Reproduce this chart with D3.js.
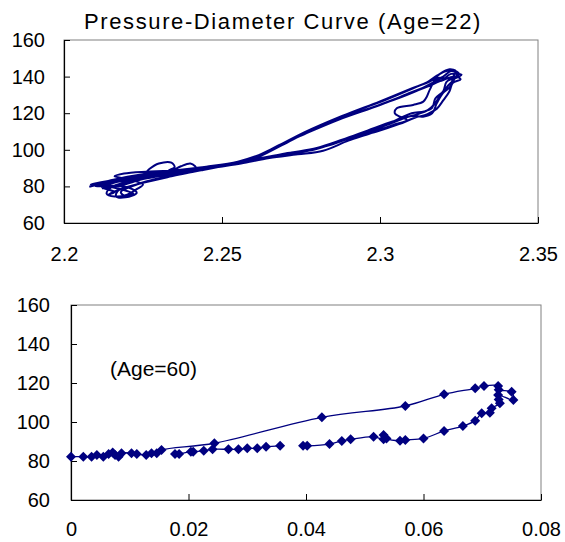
<!DOCTYPE html>
<html><head><meta charset="utf-8">
<script src="https://cdn.jsdelivr.net/npm/d3@7"></script>
<style>
body{margin:0;background:#fff}
svg{display:block}
text{font-family:"Liberation Sans",Arial,sans-serif;fill:#000}
</style>
</head><body>
<svg id="chart" width="565" height="542"></svg>
<script>
// ---------- text ----------
const title22 = "Pressure-Diameter Curve (Age=22)";
const label60 = "(Age=60)";

// ---------- tick labels ----------
const xTicks22 = [2.2, 2.25, 2.3, 2.35];
const yTicks22 = [60, 80, 100, 120, 140, 160];
const xTicks60 = [0, 0.02, 0.04, 0.06, 0.08];
const yTicks60 = [60, 80, 100, 120, 140, 160];

// ---------- Age 22: diameter (mm) / pressure (mmHg) loops ----------
const age22Cycle1 = [[2.2080,79.8],[2.2130,82.0],[2.2200,84.5],[2.2300,87.0],[2.2400,89.5],[2.2500,91.8],[2.2580,94.5],[2.2670,101.5],[2.2760,109.5],[2.2880,118.5],[2.3000,126.5],[2.3100,133.5],[2.3150,137.0],[2.3180,140.5],[2.3220,144.0],[2.3240,143.0],[2.3232,140.0],[2.3222,134.5],[2.3199,131.0],[2.3180,125.5],[2.3165,120.0],[2.3136,118.1],[2.3100,118.5],[2.3040,115.5],[2.2960,110.5],[2.2880,105.5],[2.2800,101.0],[2.2720,98.5],[2.2640,96.0],[2.2560,93.0],[2.2450,90.5],[2.2350,88.0],[2.2270,85.5],[2.2200,82.5],[2.2150,79.5],[2.2135,76.0],[2.2160,74.5],[2.2200,75.5],[2.2230,78.5]];
const age22Cycle2 = [[2.2250,81.0],[2.2200,84.0],[2.2160,85.5],[2.2190,87.0],[2.2260,88.0],[2.2330,88.5],[2.2420,90.0],[2.2520,92.0],[2.2600,95.5],[2.2680,102.5],[2.2760,108.5],[2.2870,116.5],[2.3000,124.5],[2.3100,131.5],[2.3160,135.5],[2.3200,138.5],[2.3225,141.5],[2.3258,141.0],[2.3235,139.0],[2.3211,139.0],[2.3179,139.0],[2.3158,133.0],[2.3148,129.0],[2.3137,126.3],[2.3105,124.5],[2.3053,122.7],[2.3047,119.9],[2.3063,118.1],[2.3085,116.3],[2.3040,113.5],[2.2970,109.0],[2.2900,105.0],[2.2820,99.5],[2.2740,97.5],[2.2650,95.5],[2.2560,92.5],[2.2470,90.0],[2.2380,87.0],[2.2290,84.0],[2.2220,80.5],[2.2170,77.5],[2.2165,74.5],[2.2195,74.0],[2.2230,76.5],[2.2210,79.0],[2.2150,80.5],[2.2100,80.0]];
const age22Cycle3 = [[2.2130,81.5],[2.2200,83.5],[2.2250,86.0],[2.2270,89.5],[2.2300,92.5],[2.2340,93.0],[2.2350,90.5],[2.2330,88.5],[2.2380,88.5],[2.2460,90.0],[2.2540,92.8],[2.2610,96.5],[2.2700,104.0],[2.2800,112.0],[2.2900,119.5],[2.3020,127.5],[2.3110,134.0],[2.3170,138.5],[2.3190,141.5],[2.3230,143.5],[2.3250,141.5],[2.3230,139.0],[2.3210,137.0],[2.3200,132.0],[2.3175,128.0],[2.3165,123.0],[2.3140,121.0],[2.3100,120.0],[2.3060,117.0],[2.3000,112.0],[2.2930,108.0],[2.2850,103.0],[2.2780,100.0],[2.2700,98.0],[2.2620,95.0],[2.2530,92.0],[2.2440,89.0],[2.2340,85.5],[2.2250,82.0],[2.2170,78.0],[2.2140,75.5]];
const age22Cycle4 = [[2.2160,77.0],[2.2120,79.5],[2.2170,82.5],[2.2250,85.0],[2.2330,87.5],[2.2370,91.0],[2.2400,92.5],[2.2415,91.0],[2.2420,89.5],[2.2510,91.5],[2.2600,95.0],[2.2690,102.5],[2.2780,110.5],[2.2890,118.0],[2.2990,124.0],[2.3090,130.5],[2.3150,134.5],[2.3190,137.5],[2.3240,140.0],[2.3255,138.5],[2.3230,136.5],[2.3220,132.0],[2.3200,127.0],[2.3180,122.5],[2.3150,119.5],[2.3110,117.5],[2.3060,114.0],[2.2990,110.0],[2.2910,106.5],[2.2830,102.5],[2.2760,99.0],[2.2680,97.0],[2.2590,94.0],[2.2500,91.0],[2.2400,88.0],[2.2310,84.5],[2.2230,81.0],[2.2180,77.0],[2.2190,75.0]];
const age22Cycle5 = [[2.2220,76.0],[2.2180,78.5],[2.2120,80.5],[2.2085,81.0],[2.2140,83.0],[2.2210,85.5],[2.2280,87.5],[2.2360,89.0],[2.2450,90.8],[2.2550,93.5],[2.2630,98.0],[2.2720,105.5],[2.2820,113.0],[2.2930,120.5],[2.3040,127.0],[2.3120,132.5],[2.3160,136.0],[2.3200,140.0],[2.3225,143.0],[2.3245,142.0],[2.3235,138.5],[2.3215,135.0],[2.3190,129.5],[2.3170,124.5],[2.3150,121.5],[2.3120,119.5],[2.3080,117.5],[2.3020,113.5],[2.2950,109.5],[2.2870,104.5],[2.2790,100.0],[2.2710,98.0],[2.2620,95.5],[2.2530,92.0],[2.2430,89.0],[2.2330,86.5],[2.2250,84.0],[2.2180,80.5],[2.2120,79.0]];

// ---------- Age 60: strain / pressure (null = gap in the line) ----------
const age60Strain = [0.0000,0.0021,0.0035,0.0044,0.0055,0.0064,0.0071,0.0075,0.0081,0.0086,0.0103,0.0112,0.0128,0.0137,0.0146,0.0154,0.0244,0.0427,0.0569,0.0635,0.0688,0.0703,0.0727,0.0728,0.0750,0.0753,0.0727,0.0728,0.0730,0.0716,0.0713,0.0699,0.0688,0.0667,0.0635,0.0600,0.0569,0.0560,0.0537,0.0532,0.0532,0.0515,0.0476,0.0461,0.0440,0.0402,0.0395,null,0.0356,0.0332,0.0317,0.0300,0.0285,0.0268,0.0241,0.0226,0.0208,0.0204,0.0184,0.0177];
const age60Pressure = [82.2,82.2,82.2,83.1,82.2,83.6,84.3,83.1,82.2,84.0,84.0,83.6,83.1,84.0,84.0,85.6,89.1,102.4,108.2,114.2,117.3,118.5,118.5,116.5,115.5,111.3,113.8,111.5,109.6,107.0,104.8,104.5,100.7,97.9,95.4,91.6,90.8,90.4,91.6,93.3,91.1,92.5,91.1,90.3,88.7,87.8,87.8,null,87.8,87.3,86.5,86.5,86.0,86.0,86.0,85.3,84.8,84.8,83.6,83.6];

const NAVY = "#000080";
const svg = d3.select("#chart");

function frame(g, x, y, xt, yt, xPad, yPad) {
  const [x0, x1] = x.range(), [y0, y1] = y.range();
  g.append("rect").attr("x", x0).attr("y", y1).attr("width", x1 - x0).attr("height", y0 - y1)
    .attr("fill", "#fff").attr("stroke", "#808080").attr("stroke-width", 1);
  const ax = g.append("g").attr("transform", `translate(0,${y0})`)
    .call(d3.axisBottom(x).tickValues(xt).tickFormat(d3.format("")).tickSizeInner(-6).tickSizeOuter(0).tickPadding(xPad));
  const ay = g.append("g").attr("transform", `translate(${x0},0)`)
    .call(d3.axisLeft(y).tickValues(yt).tickFormat(d3.format("")).tickSizeInner(-6).tickSizeOuter(0).tickPadding(yPad));
  [ax, ay].forEach(a => {
    a.selectAll("text").style("font-size", "20px").attr("fill", "#000");
    a.selectAll("line").attr("stroke", "#000");
    a.select(".domain").attr("stroke", "#000").attr("stroke-width", 1.2);
  });
}

// ---------- Top chart ----------
const x22 = d3.scaleLinear().domain([2.2, 2.35]).range([64, 538]);
const y22 = d3.scaleLinear().domain([60, 160]).range([223, 40]);
const gTop = svg.append("g");
frame(gTop, x22, y22, xTicks22, yTicks22, 24, 19);

const loop22 = [].concat(age22Cycle1, age22Cycle2, age22Cycle3, age22Cycle4, age22Cycle5);
gTop.append("path").datum(loop22)
  .attr("fill", "none").attr("stroke", NAVY).attr("stroke-width", 2)
  .attr("stroke-linejoin", "round")
  .attr("d", d3.line().x(d => x22(d[0])).y(d => y22(d[1])).curve(d3.curveCatmullRom.alpha(0.5)));

svg.append("text").attr("x", 283).attr("y", 29).attr("text-anchor", "middle")
  .style("font-size", "22px").style("letter-spacing", "1.6px").text(title22);

// ---------- Bottom chart ----------
const x60 = d3.scaleLinear().domain([0, 0.08]).range([71, 541]);
const y60 = d3.scaleLinear().domain([60, 160]).range([500, 305]);
const gBot = svg.append("g");
frame(gBot, x60, y60, xTicks60, yTicks60, 22, 21);

const pts60 = age60Strain.map((s, i) => [s, age60Pressure[i]]);
gBot.append("path").datum(pts60)
  .attr("fill", "none").attr("stroke", NAVY).attr("stroke-width", 1.3)
  .attr("d", d3.line().defined(d => d[0] != null && d[1] != null)
    .x(d => x60(d[0])).y(d => y60(d[1])).curve(d3.curveCatmullRom.alpha(0.5)));

const r = 5;
gBot.selectAll("path.mk").data(pts60.filter(d => d[0] != null)).join("path")
  .attr("class", "mk")
  .attr("d", `M0,${-r}L${r},0L0,${r}L${-r},0Z`)
  .attr("transform", d => `translate(${x60(d[0])},${y60(d[1])})`)
  .attr("fill", NAVY);

gBot.append("text").attr("x", 110).attr("y", 376).style("font-size", "21px").text(label60);
</script>
</body></html>
